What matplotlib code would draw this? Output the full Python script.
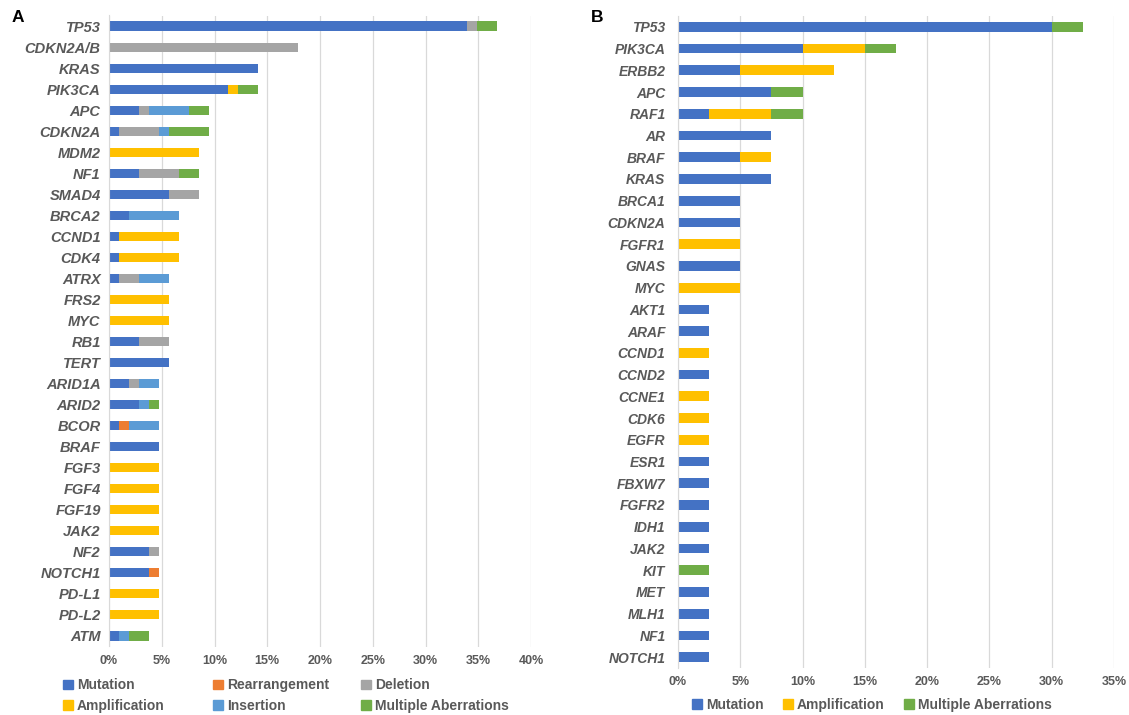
import numpy as np
import matplotlib
matplotlib.use("Agg")
import matplotlib.pyplot as plt
import matplotlib.patches as patches

plt.rcParams['font.family'] = ['Liberation Sans', 'DejaVu Sans']

# ---- panel A: 106 patients, counts per aberration type ----
n_a = 106
genes_a = ["TP53", "CDKN2A/B", "KRAS", "PIK3CA", "APC", "CDKN2A", "MDM2", "NF1",
           "SMAD4", "BRCA2", "CCND1", "CDK4", "ATRX", "FRS2", "MYC", "RB1", "TERT",
           "ARID1A", "ARID2", "BCOR", "BRAF", "FGF3", "FGF4", "FGF19", "JAK2",
           "NF2", "NOTCH1", "PD-L1", "PD-L2", "ATM"]
mut_a = [36, 0, 15, 12, 3, 1, 0, 3, 6, 2, 1, 1, 1, 0, 0, 3, 6, 2, 3, 1, 5, 0, 0, 0, 0, 4, 4, 0, 0, 1]
rearr_a = [0, 0, 0, 0, 0, 0, 0, 0, 0, 0, 0, 0, 0, 0, 0, 0, 0, 0, 0, 1, 0, 0, 0, 0, 0, 0, 1, 0, 0, 0]
del_a = [1, 19, 0, 0, 1, 4, 0, 4, 3, 0, 0, 0, 2, 0, 0, 3, 0, 1, 0, 0, 0, 0, 0, 0, 0, 1, 0, 0, 0, 0]
amp_a = [0, 0, 0, 1, 0, 0, 9, 0, 0, 0, 6, 6, 0, 6, 6, 0, 0, 0, 0, 0, 0, 5, 5, 5, 5, 0, 0, 5, 5, 0]
ins_a = [0, 0, 0, 0, 4, 1, 0, 0, 0, 5, 0, 0, 3, 0, 0, 0, 0, 2, 1, 3, 0, 0, 0, 0, 0, 0, 0, 0, 0, 1]
multi_a = [2, 0, 0, 2, 2, 4, 0, 2, 0, 0, 0, 0, 0, 0, 0, 0, 0, 0, 1, 0, 0, 0, 0, 0, 0, 0, 0, 0, 0, 2]

# ---- panel B: 40 patients ----
n_b = 40
genes_b = ["TP53", "PIK3CA", "ERBB2", "APC", "RAF1", "AR", "BRAF", "KRAS", "BRCA1",
           "CDKN2A", "FGFR1", "GNAS", "MYC", "AKT1", "ARAF", "CCND1", "CCND2", "CCNE1",
           "CDK6", "EGFR", "ESR1", "FBXW7", "FGFR2", "IDH1", "JAK2", "KIT", "MET",
           "MLH1", "NF1", "NOTCH1"]
mut_b = [12, 4, 2, 3, 1, 3, 2, 3, 2, 2, 0, 2, 0, 1, 1, 0, 1, 0, 0, 0, 1, 1, 1, 1, 1, 0, 1, 1, 1, 1]
amp_b = [0, 2, 3, 0, 2, 0, 1, 0, 0, 0, 2, 0, 2, 0, 0, 1, 0, 1, 1, 1, 0, 0, 0, 0, 0, 0, 0, 0, 0, 0]
multi_b = [1, 1, 0, 1, 1, 0, 0, 0, 0, 0, 0, 0, 0, 0, 0, 0, 0, 0, 0, 0, 0, 0, 0, 0, 0, 1, 0, 0, 0, 0]

colors = {
    "Mutation": "#4472C4",
    "Rearrangement": "#ED7D31",
    "Deletion": "#A5A5A5",
    "Amplification": "#FFC000",
    "Insertion": "#5B9BD5",
    "Multiple Aberrations": "#70AD47",
}
txt_gray = "#595959"
grid_gray = "#d9d9d9"

W, H = 1129, 715
fig = plt.figure(figsize=(W / 100, H / 100), dpi=100)


def px_axes(left, right, top, bottom):
    return fig.add_axes([left / W, 1 - bottom / H, (right - left) / W, (bottom - top) / H])


def stacked(ax, genes, series, n, xmax, bar_h, ypad, yfs):
    y = np.arange(len(genes))
    left = np.zeros(len(genes))
    for name, counts in series:
        vals = np.array(counts) / n * 100
        ax.barh(y, vals, left=left, height=bar_h, color=colors[name],
                edgecolor='none', zorder=3)
        left += vals
    ax.set_xlim(0, xmax)
    ax.set_ylim(len(genes) - 0.5, -0.5)
    ax.set_yticks(y)
    ax.set_yticklabels(genes, fontsize=yfs, fontweight='bold', fontstyle='italic', color=txt_gray)
    ticks = np.arange(0, xmax + 1, 5)
    ax.set_xticks(ticks)
    ax.set_xticklabels([f"{t}%" for t in ticks], fontsize=9, fontweight='bold', color=txt_gray)
    ax.tick_params(axis='both', length=0)
    ax.tick_params(axis='y', pad=ypad)
    ax.tick_params(axis='x', pad=6)
    ax.grid(axis='x', color=grid_gray, linewidth=0.9, zorder=0)
    for s in ['top', 'right', 'bottom']:
        ax.spines[s].set_visible(False)
    ax.spines['left'].set_color(grid_gray)
    ax.spines['left'].set_zorder(4)


ax_a = px_axes(109, 531, 15.5, 646.5)
stacked(ax_a, genes_a,
        [("Mutation", mut_a), ("Rearrangement", rearr_a), ("Deletion", del_a),
         ("Amplification", amp_a), ("Insertion", ins_a), ("Multiple Aberrations", multi_a)],
        n_a, 40, 0.43, 6, 10.5)

ax_b = px_axes(678, 1114, 16, 668)
stacked(ax_b, genes_b,
        [("Mutation", mut_b), ("Amplification", amp_b), ("Multiple Aberrations", multi_b)],
        n_b, 35, 0.45, 9, 10)

fig.text(12 / W, 1 - 18 / H, "A", fontsize=12.5, fontweight='bold', va='center')
fig.text(591 / W, 1 - 18 / H, "B", fontsize=12.5, fontweight='bold', va='center')


def handle(name):
    return patches.Patch(color=colors[name], label=name)


leg_kw = dict(frameon=False, handlelength=0.7, handleheight=0.7, handletextpad=0.3,
              borderpad=0, borderaxespad=0, labelspacing=0.45,
              prop={'size': 10, 'weight': 'bold'}, labelcolor=txt_gray)

# panel A legend: three columns, two rows
col_pairs = [("Mutation", "Amplification"), ("Rearrangement", "Insertion"),
             ("Deletion", "Multiple Aberrations")]
for x0, pair in zip([63, 213, 361], col_pairs):
    fig.legend(handles=[handle(p) for p in pair], loc='center left',
               bbox_to_anchor=(x0 / W, 1 - 695.5 / H), ncol=1, **leg_kw)

# panel B legend: one row
fig.legend(handles=[handle(p) for p in ["Mutation", "Amplification", "Multiple Aberrations"]],
           loc='center', bbox_to_anchor=(872 / W, 1 - 705 / H), ncol=3,
           columnspacing=1.4, **leg_kw)

fig.savefig("out.png", dpi=100)
